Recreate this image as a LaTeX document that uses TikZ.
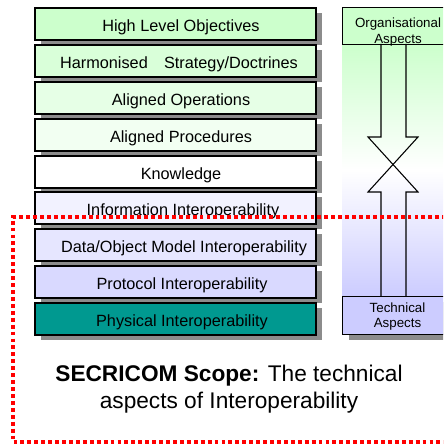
\documentclass[tikz,border=0pt]{standalone}
\usepackage{fontspec}
\setmainfont{Liberation Sans}
\usetikzlibrary{shadows}
\begin{document}
\begin{tikzpicture}[x=0.75pt,y=-0.75pt,
  layer/.style={draw=black,line width=0.8pt,minimum width=281*0.75pt,minimum height=32*0.75pt,
    inner sep=0pt,font=\fontsize{12}{14}\selectfont,
    general shadow={fill=black!45,shadow xshift=4.5pt,shadow yshift=-3.75pt}},
  lbl/.style={font=\fontsize{12.2}{14}\selectfont},
  aspect/.style={draw=black,line width=0.8pt,inner sep=0pt},
  small/.style={font=\fontsize{10}{12}\selectfont,anchor=base,inner sep=0pt},
  redline/.style={draw=red,line width=2.9pt,dash pattern=on 2.9pt off 2.3pt},
  xarrow/.style={draw=black,line width=0.8pt}]
\useasboundingbox (0,0) rectangle (443,445);
\clip (0,0) rectangle (443,445);
\definecolor{g1}{HTML}{CCFFCC}
\definecolor{g2}{HTML}{D9FFD9}
\definecolor{g3}{HTML}{E6FFE6}
\definecolor{g4}{HTML}{F2FFF2}
\definecolor{b1}{HTML}{F2F2FF}
\definecolor{b2}{HTML}{E6E6FF}
\definecolor{b3}{HTML}{D9D9FF}
\definecolor{teal1}{HTML}{009990}
\definecolor{lav}{HTML}{CCCCFF}
\fill[white] (0,0) rectangle (443,445);
% right column gradient
\shade[top color=g1,bottom color=lav,middle color=white] (342,44) rectangle (460,296);
% left layers
\node[layer,fill=g1] (r1) at (175.5,24) {};
\node[layer,fill=g2] (r2) at (175.5,61) {};
\node[layer,fill=g3] (r3) at (175.5,98) {};
\node[layer,fill=g4] (r4) at (175.5,135) {};
\node[layer,fill=white] (r5) at (175.5,172) {};
\node[layer,fill=b1] (r6) at (175.5,208) {};
\node[layer,fill=b2] (r7) at (175.5,245) {};
\node[layer,fill=b3] (r8) at (175.5,282) {};
\node[layer,fill=teal1] (r9) at (175.5,319) {};
% right boxes
\node[aspect,fill=g1,minimum width=118*0.75pt,minimum height=37*0.75pt,anchor=north west] (org) at (342,7) {};
\node[aspect,fill=lav,minimum width=118*0.75pt,minimum height=38*0.75pt,anchor=north west,
  general shadow={fill=black!45,shadow xshift=4.5pt,shadow yshift=-3.75pt}] (tech) at (342,296) {};
% double arrow with crossing heads
\draw[xarrow] (381,44) -- (381,137) -- (368,137) -- (418,192) -- (406,192) -- (406,296);
\draw[xarrow] (406,44) -- (406,137) -- (418,137) -- (368,192) -- (381,192) -- (381,296);
\node[small] (orgt1) at (398,28) {Organisational};
\node[small] (orgt2) at (398,43.5) {Aspects};
\node[small] (techt1) at (397.5,312) {Technical};
\node[small] (techt2) at (397.5,327) {Aspects};
% labels
\node[lbl] (t1) at (181,27) {High Level Objectives};
\node[lbl] (t2) at (179,64) {Harmonised\hspace{1em}Strategy/Doctrines};
\node[lbl] (t3) at (181,101) {Aligned Operations};
\node[lbl] (t4) at (181,138) {Aligned Procedures};
\node[lbl] (t5) at (181,175) {Knowledge};
\node[lbl] (t6) at (183,211) {Information Interoperability};
\node[lbl] (t7) at (184,248) {Data/Object Model Interoperability};
\node[lbl] (t8) at (182,285) {Protocol Interoperability};
\node[lbl] (t9) at (182,322) {Physical Interoperability};
% red dotted scope
\draw[redline] (460,217) -- (13,217) -- (13,442) -- (460,442);
% scope text
\node[font=\fontsize{17}{20.5}\selectfont,align=center] (scope) at (229,389)
  {\textbf{SECRICOM Scope:} The technical\\aspects of Interoperability};
\end{tikzpicture}
\end{document}
